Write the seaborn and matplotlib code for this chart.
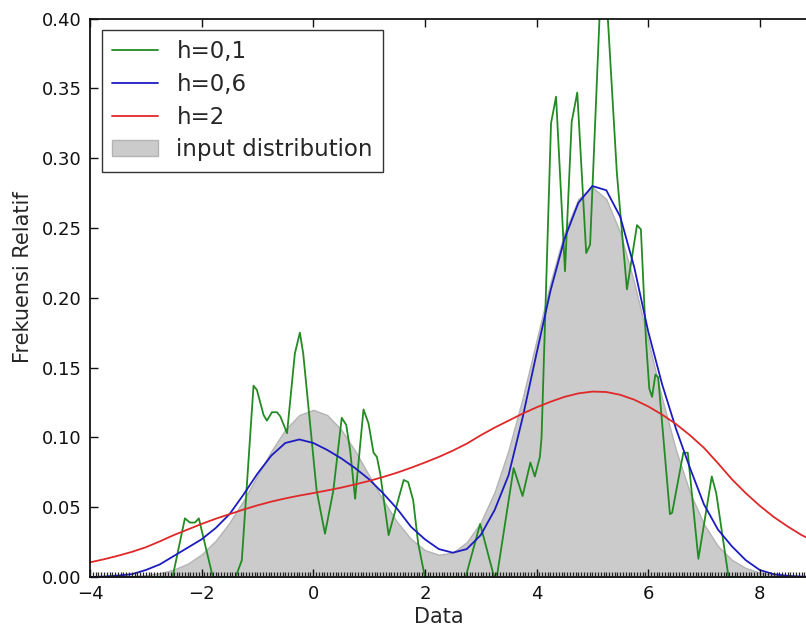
import numpy as np
import pandas as pd
import matplotlib
matplotlib.use('Agg')
import matplotlib.pyplot as plt
import seaborn as sns
from matplotlib.patches import Patch
from matplotlib.lines import Line2D
from matplotlib.ticker import MultipleLocator

# input distribution (gray fill)
gray_x = [-4.0, -3.75, -3.5, -3.25, -3.0, -2.75, -2.5, -2.25, -2.0, -1.75, -1.5, -1.25,
          -1.0, -0.75, -0.5, -0.25, 0.0, 0.25, 0.5, 0.75, 1.0, 1.25, 1.5, 1.75,
          2.0, 2.25, 2.5, 2.75, 3.0, 3.25, 3.5, 3.75, 4.0, 4.25, 4.5, 4.75,
          5.0, 5.25, 5.5, 5.75, 6.0, 6.25, 6.5, 6.75, 7.0, 7.25, 7.5, 7.75,
          8.0, 8.25, 8.5, 8.75, 9.0]
gray_y = [0.0000, 0.0001, 0.0003, 0.0006, 0.0013, 0.0027, 0.0053, 0.0095, 0.0162, 0.0259, 0.0389, 0.0548,
          0.0726, 0.0903, 0.1056, 0.1160, 0.1197, 0.1160, 0.1056, 0.0903, 0.0727, 0.0551, 0.0395, 0.0273,
          0.0193, 0.0159, 0.0175, 0.0249, 0.0391, 0.0610, 0.0910, 0.1279, 0.1694, 0.2108, 0.2465, 0.2707,
          0.2792, 0.2707, 0.2465, 0.2108, 0.1694, 0.1278, 0.0907, 0.0604, 0.0378, 0.0222, 0.0123, 0.0064,
          0.0031, 0.0014, 0.0006, 0.0002, 0.0001]

# h=0,6
blue_x = gray_x
blue_y = [0.000, 0.0003, 0.001, 0.002, 0.005, 0.009, 0.015, 0.021, 0.027, 0.035, 0.045, 0.059,
          0.074, 0.087, 0.096, 0.0985, 0.096, 0.091, 0.085, 0.078, 0.070, 0.060, 0.049, 0.036,
          0.027, 0.020, 0.0174, 0.020, 0.030, 0.048, 0.073, 0.114, 0.160, 0.205, 0.242, 0.268,
          0.280, 0.277, 0.258, 0.222, 0.176, 0.138, 0.106, 0.078, 0.052, 0.034, 0.022, 0.012,
          0.005, 0.002, 0.0008, 0.0003, 0.0001]

# h=2
red_x = gray_x
red_y = [0.0105, 0.0127, 0.0152, 0.0180, 0.0213, 0.0255, 0.0300, 0.0340, 0.0380, 0.0417, 0.0450, 0.0483,
         0.0513, 0.0540, 0.0563, 0.0583, 0.0601, 0.0620, 0.0640, 0.0663, 0.0688, 0.0716, 0.0747, 0.0782,
         0.0820, 0.0860, 0.0905, 0.0955, 0.1015, 0.1070, 0.1120, 0.1170, 0.1215, 0.1255, 0.1290, 0.1315,
         0.1328, 0.1325, 0.1305, 0.1270, 0.1222, 0.1163, 0.1095, 0.1015, 0.0925, 0.0815, 0.0700, 0.0600,
         0.0510, 0.0430, 0.0362, 0.0300, 0.0250]

# h=0,1
green_x = [-4.0, -2.52, -2.30, -2.21, -2.12, -2.05, -1.80, -1.39, -1.28, -1.07, -1.01, -0.89,
           -0.83, -0.74, -0.65, -0.59, -0.47, -0.33, -0.24, -0.18, 0.06, 0.21, 0.36, 0.51,
           0.59, 0.66, 0.75, 0.90, 0.99, 1.08, 1.14, 1.20, 1.35, 1.50, 1.62, 1.70,
           1.79, 1.88, 2.00, 2.73, 2.99, 3.24, 3.30, 3.59, 3.75, 3.89, 3.97, 4.06,
           4.09, 4.26, 4.35, 4.51, 4.63, 4.73, 4.89, 4.96, 5.19, 5.44, 5.62, 5.80,
           5.87, 5.96, 6.02, 6.07, 6.13, 6.18, 6.39, 6.43, 6.63, 6.71, 6.90, 7.14,
           7.22, 7.44, 9.0]
green_y = [0.0, 0.0, 0.042, 0.039, 0.039, 0.042, 0.0, 0.0, 0.012, 0.137, 0.134, 0.116,
           0.112, 0.118, 0.118, 0.115, 0.103, 0.160, 0.175, 0.160, 0.062, 0.031, 0.062, 0.114,
           0.109, 0.091, 0.056, 0.120, 0.110, 0.089, 0.086, 0.074, 0.030, 0.052, 0.0695, 0.068,
           0.055, 0.024, 0.0, 0.0, 0.038, 0.0, 0.003, 0.078, 0.058, 0.082, 0.072, 0.086,
           0.100, 0.325, 0.344, 0.219, 0.326, 0.347, 0.232, 0.238, 0.46, 0.289, 0.206, 0.252,
           0.249, 0.170, 0.135, 0.129, 0.145, 0.143, 0.045, 0.046, 0.089, 0.089, 0.013, 0.072,
           0.060, 0.0, 0.0]

labels = ['h=0,1', 'h=0,6', 'h=2', 'input distribution']
colors = ['#228b22', '#1c1cc0', '#e02828']

sns.set_style('ticks')
plt.rcParams['font.family'] = ['DejaVu Sans']

fig = plt.figure(figsize=(8.06, 6.27), dpi=100)
# axes runs past the right edge of the figure, like the cropped original
ax = fig.add_axes([90 / 806, 50 / 627, 725.6 / 806, 558.5 / 627])
ax.set_axisbelow(False)  # ticks drawn over the gray fill

ax.fill_between(gray_x, gray_y, 0, facecolor='#cbcbcb', edgecolor='#b4b4b4', lw=1.0)
sns.lineplot(x=green_x, y=green_y, color=colors[0], lw=1.3, ax=ax)
sns.lineplot(x=blue_x, y=blue_y, color=colors[1], lw=1.3, ax=ax)
sns.lineplot(x=red_x, y=red_y, color=colors[2], lw=1.3, ax=ax)

ax.set_xlim(-4, 9)
ax.set_ylim(0, 0.40)
ax.yaxis.set_major_locator(MultipleLocator(0.05))
ax.xaxis.set_major_locator(MultipleLocator(2))
ax.xaxis.set_minor_locator(MultipleLocator(0.05))
ax.yaxis.set_major_formatter(matplotlib.ticker.FormatStrFormatter('%.2f'))

ax.tick_params(which='major', direction='in', length=6, width=1, top=True, right=False,
               labelsize=13, pad=6, colors='#111111')
ax.tick_params(axis='x', which='minor', direction='in', length=3.5, width=0.9, top=False, bottom=True,
               colors='#222222')
for s in ax.spines.values():
    s.set_linewidth(1.2)
    s.set_color('black')

ax.set_xlabel('Data', fontsize=15)
ax.set_ylabel('Frekuensi Relatif', fontsize=15)
ax.xaxis.set_label_coords((439 - 90) / 725.6, (577 - 607) / 558.5)
ax.yaxis.set_label_coords((33 - 90) / 725.6, (577 - 277) / 558.5)

handles = [Line2D([], [], color=c, lw=1.3) for c in colors]
handles.append(Patch(facecolor='#cbcbcb', edgecolor='#b4b4b4'))
leg = ax.legend(handles, labels, loc='upper left', bbox_to_anchor=((102 - 90) / 725.6, (577 - 30) / 558.5),
                borderaxespad=0, fontsize=16.5, frameon=True, fancybox=False, handlelength=2.0,
                handletextpad=0.8, labelspacing=0.42, borderpad=0.45)
leg.get_frame().set_edgecolor('black')
leg.get_frame().set_linewidth(1.0)

fig.savefig('out.png', dpi=100)
